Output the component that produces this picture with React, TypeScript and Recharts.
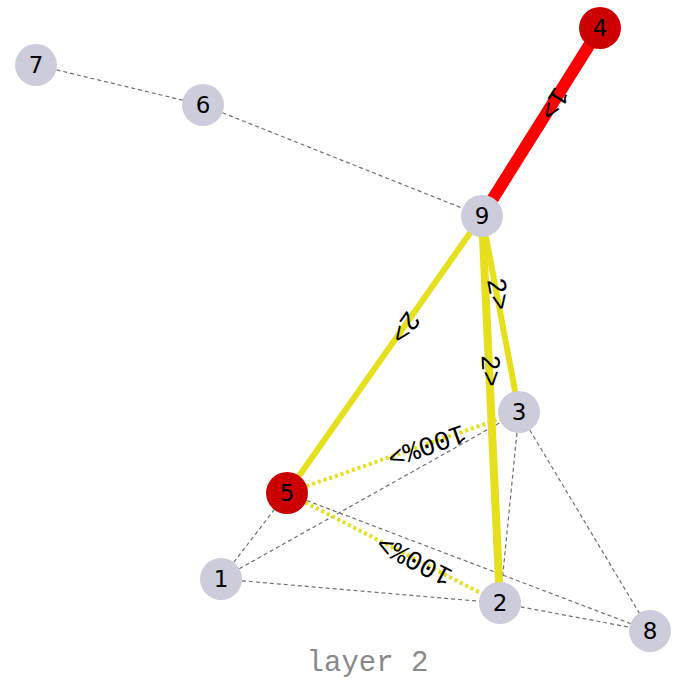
import React from 'react';
import { ScatterChart, Scatter, XAxis, YAxis, ReferenceLine } from 'recharts';

// node layout (screen-like units, y grows downward)
const nodeIds = ['1', '2', '3', '4', '5', '6', '7', '8', '9'];
const nodeX = [221, 500, 519, 600, 287, 203, 36, 650, 482];
const nodeY = [579, 603, 412, 28, 493, 105, 65, 631, 216];
const nodeColors = ['#ccccda', '#ccccda', '#ccccda', '#cc0000', '#cc0000', '#ccccda', '#ccccda', '#ccccda', '#ccccda'];

// plain (unlabelled) links
const plainSource = ['7', '6', '1', '1', '1', '5', '3', '3', '2'];
const plainTarget = ['6', '9', '5', '3', '2', '8', '2', '8', '8'];

// flow links with labels
const flowSource = ['4', '9', '9', '9', '3', '2'];
const flowTarget = ['9', '5', '3', '2', '5', '5'];
const flowLabels = ['1>', '2>', '2>', '2>', '100%>', '100%>'];
const flowColors = ['#ff0000', '#e6df1c', '#e6df1c', '#e6df1c', '#e6df1c', '#e6df1c'];
const flowWidths = [12, 6, 6, 8, 4, 4];
const flowDotted = [false, false, false, false, true, true];

const W = 683;
const H = 684;

const pos = (id: string) => {
  const i = nodeIds.indexOf(id);
  return { x: nodeX[i], y: nodeY[i] };
};

const nodeData = nodeIds.map((id, i) => ({ id, x: nodeX[i], y: nodeY[i], color: nodeColors[i] }));

const labelData = flowSource.map((s, i) => {
  const a = pos(s);
  const b = pos(flowTarget[i]);
  return {
    x: a.x + 0.4 * (b.x - a.x),
    y: a.y + 0.4 * (b.y - a.y),
    text: flowLabels[i],
    angle: (Math.atan2(b.y - a.y, b.x - a.x) * 180) / Math.PI,
  };
});

const NodeShape = (props: any) => {
  const { cx, cy, payload } = props;
  return (
    <g>
      <circle cx={cx} cy={cy} r={21} fill={payload.color} />
      <text x={cx} y={cy} textAnchor="middle" dominantBaseline="central" fontFamily="DejaVu Sans" fontSize={23} fill="#000">
        {payload.id}
      </text>
    </g>
  );
};

const LabelShape = (props: any) => {
  const { cx, cy, payload } = props;
  return (
    <text
      x={cx}
      y={cy}
      textAnchor="middle"
      dominantBaseline="central"
      fontFamily="'Liberation Mono', 'Courier New', monospace"
      fontSize={27}
      fill="#000"
      transform={`rotate(${payload.angle} ${cx} ${cy})`}
    >
      {payload.text}
    </text>
  );
};

export default function App() {
  return (
    <div style={{ position: 'absolute', left: 0, top: 0 }}>
      <ScatterChart width={W} height={H} margin={{ top: 0, right: 0, bottom: 0, left: 0 }}>
        <XAxis type="number" dataKey="x" domain={[0, W]} hide />
        <YAxis type="number" dataKey="y" domain={[0, H]} reversed hide />
        {plainSource.map((s, i) => {
          const a = pos(s);
          const b = pos(plainTarget[i]);
          return (
            <ReferenceLine
              key={'p' + i}
              segment={[{ x: a.x, y: a.y }, { x: b.x, y: b.y }]}
              stroke="#707070"
              strokeWidth={1.2}
              strokeDasharray="4 3"
              ifOverflow="visible"
            />
          );
        })}
        {flowSource.map((s, i) => {
          const a = pos(s);
          const b = pos(flowTarget[i]);
          return (
            <ReferenceLine
              key={'f' + i}
              segment={[{ x: a.x, y: a.y }, { x: b.x, y: b.y }]}
              stroke={flowColors[i]}
              strokeWidth={flowWidths[i]}
              strokeDasharray={flowDotted[i] ? '3 3' : undefined}
              ifOverflow="visible"
            />
          );
        })}
        <Scatter data={nodeData} shape={NodeShape} isAnimationActive={false} />
        <Scatter data={labelData} shape={LabelShape} isAnimationActive={false} />
      </ScatterChart>
      <div
        style={{
          position: 'absolute',
          left: 0,
          top: 647,
          width: 735,
          textAlign: 'center',
          fontFamily: "'Liberation Mono', 'Courier New', monospace",
          fontSize: 29,
          lineHeight: '34px',
          color: '#888',
        }}
      >
        layer 2
      </div>
    </div>
  );
}
